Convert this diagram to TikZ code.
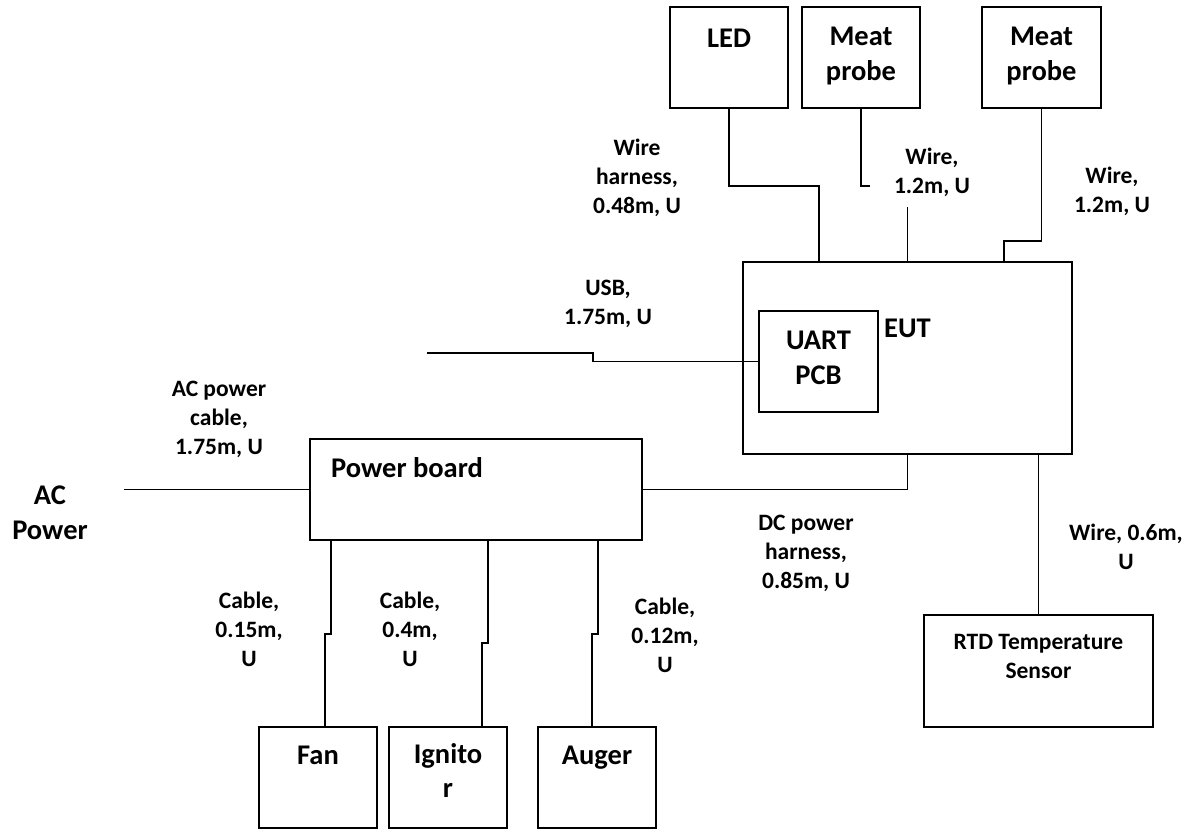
\documentclass[tikz,border=0pt]{standalone}
\usepackage{fontspec}
\setmainfont{Carlito}
\usetikzlibrary{positioning}

\tikzset{
  unit/.style={draw, line width=2pt, inner sep=0pt},
  boxtext/.style={font=\bfseries\fontsize{28.5}{34.5}\selectfont, align=center, inner sep=0pt},
  cablelabel/.style={font=\bfseries\fontsize{23.5}{29}\selectfont, align=center, inner sep=0pt},
  wire/.style={line width=1.8pt},
}

\begin{document}
\begin{tikzpicture}[x=1pt, y=-1pt]
  \useasboundingbox (0,0) rectangle (1196,829);

  % units
  \node[unit, minimum width=118pt, minimum height=101pt] (led) at (729,57.5) {};
  \node[unit, minimum width=118pt, minimum height=101pt] (probeA) at (861,57.5) {};
  \node[unit, minimum width=119pt, minimum height=101pt] (probeB) at (1041.5,57.5) {};
  \node[unit, minimum width=329pt, minimum height=192pt] (eut) at (907.5,358) {};
  \node[unit, minimum width=119pt, minimum height=101pt] (uart) at (818.5,361.5) {};
  \node[unit, minimum width=332pt, minimum height=101pt] (power) at (476,489.5) {};
  \node[unit, minimum width=229pt, minimum height=112pt] (rtd) at (1038.5,671) {};
  \node[unit, minimum width=118pt, minimum height=101pt] (fan) at (318,777.5) {};
  \node[unit, minimum width=118pt, minimum height=101pt] (ignitor) at (448,777.5) {};
  \node[unit, minimum width=118pt, minimum height=101pt] (auger) at (597,777.5) {};

  % unit names
  \node[boxtext, below=23pt of led.north] (ledname) {LED};
  \node[boxtext, below=21pt of probeA.north] (probeAname) {Meat\\probe};
  \node[boxtext, below=21pt of probeB.north] (probeBname) {Meat\\probe};
  \node[boxtext, below=21pt of uart.north] (uartname) {UART\\PCB};
  \node[boxtext, anchor=north west] (eutname) at ([xshift=5pt,yshift=-9pt]uart.north east) {EUT};
  \node[boxtext, anchor=north west] (powername) at ([xshift=22pt,yshift=-19pt]power.north west) {Power board};
  \node[cablelabel, below=20pt of rtd.north] (rtdname) {RTD Temperature\\Sensor};
  \node[boxtext, below=20pt of fan.north] (fanname) {Fan};
  \node[boxtext, below=17pt of ignitor.north] (ignitorname) {Ignito\\r};
  \node[boxtext, below=20pt of auger.north] (augername) {Auger};
  \node[boxtext] (acpower) at (50,513) {AC\\Power};

  % cables
  \coordinate (usbend) at (427,353);
  \coordinate (acend) at (124,489.5);
  \draw[wire] (led.south) -- ++(0,77) -| ([xshift=-88.5pt]eut.north);
  \draw[wire] (probeA.south) -- ++(0,77) -| (eut.north);
  \draw[wire] (probeB.south) -- ++(0,132) -| ([xshift=96.5pt]eut.north);
  \draw[wire] (usbend) -- ++(166,0) |- (uart.west);
  \draw[wire] (acend) -- (power.west);
  \draw[wire] (power.east) -| (eut.south);
  \draw[wire] (rtd.north |- eut.south) -- (rtd.north);
  \draw[wire] ([xshift=-145pt]power.south) -- ++(0,93) -| ([xshift=7pt]fan.north);
  \draw[wire] ([xshift=12pt]power.south) -- ++(0,102) -| ([xshift=34pt]ignitor.north);
  \draw[wire] ([xshift=122pt]power.south) -- ++(0,93) -| ([xshift=-5pt]auger.north);

  % cable labels
  \node[cablelabel] (harnesslabel) at (637,177.5) {Wire\\harness,\\0.48m, U};
  \node[cablelabel, fill=white, minimum width=124pt, minimum height=70pt] (probeAlabel) at (932,172) {Wire,\\1.2m, U};
  \node[cablelabel] (probeBlabel) at (1112,191) {Wire,\\1.2m, U};
  \node[cablelabel] (usblabel) at (608,304) {USB,\\1.75m, U};
  \node[cablelabel] (aclabel) at (219,419.5) {AC power\\cable,\\1.75m, U};
  \node[cablelabel] (dclabel) at (806,553.5) {DC power\\harness,\\0.85m, U};
  \node[cablelabel] (rtdlabel) at (1126,547) {Wire, 0.6m,\\U};
  \node[cablelabel] (fanlabel) at (249,629) {Cable,\\0.15m,\\U};
  \node[cablelabel] (ignitorlabel) at (410,629) {Cable,\\0.4m,\\U};
  \node[cablelabel] (augerlabel) at (665,635) {Cable,\\0.12m,\\U};
\end{tikzpicture}
\end{document}
